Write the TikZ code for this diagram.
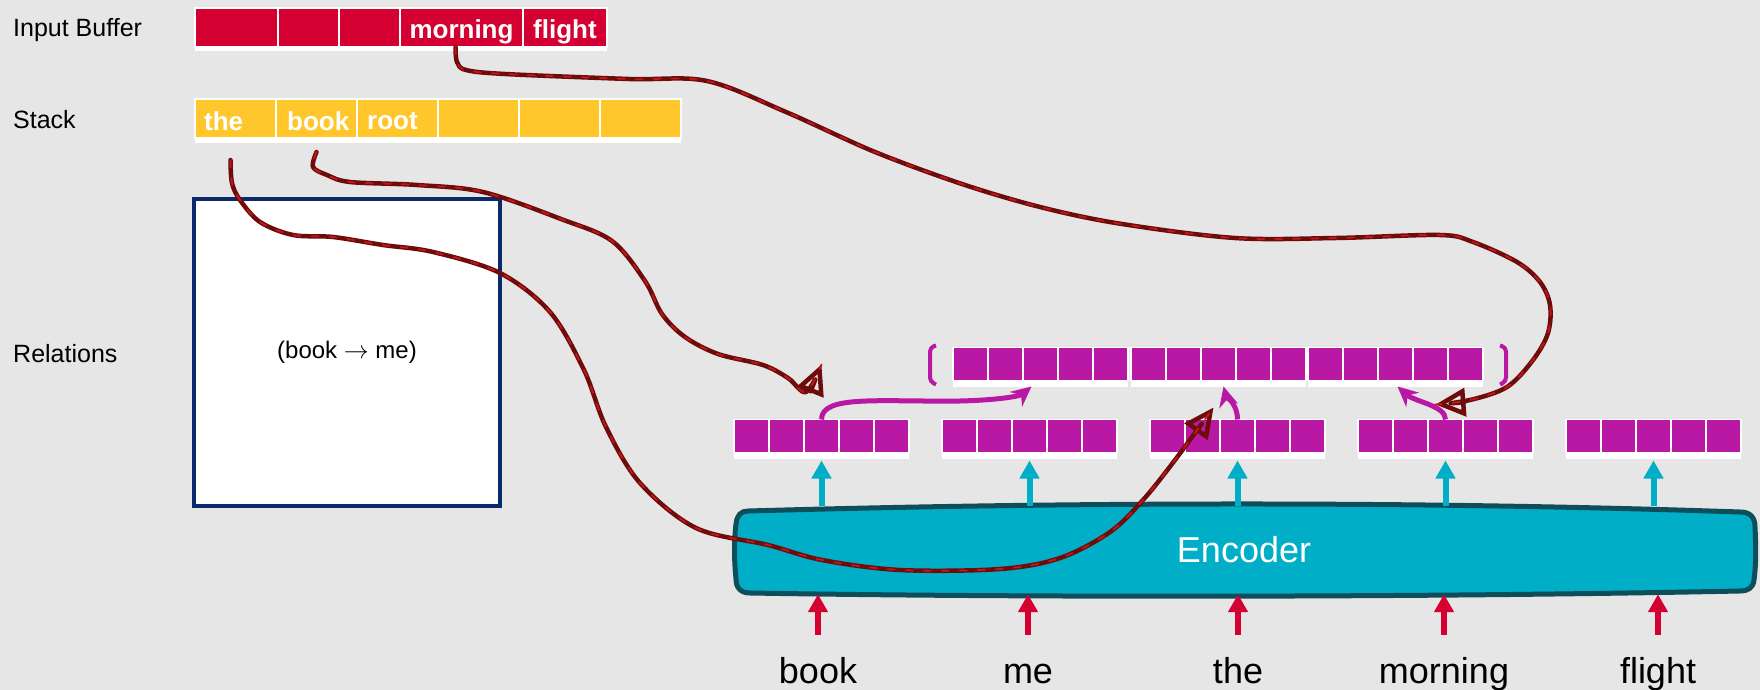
\documentclass[tikz,border=0pt]{standalone}
\usepackage{fontspec}
\setmainfont{Liberation Sans}
\usetikzlibrary{positioning,arrows.meta}

\definecolor{bufred}{HTML}{D50032}
\definecolor{stackyel}{HTML}{FFC72C}
\definecolor{vecmag}{HTML}{B918A5}
\definecolor{enccyan}{HTML}{00AEC7}
\definecolor{encedge}{HTML}{0E4D5A}
\definecolor{relnavy}{HTML}{0B2A6B}
\definecolor{ptrdark}{HTML}{6E0B0B}
\definecolor{ptrred}{HTML}{C01818}
\definecolor{bggray}{HTML}{E6E6E6}

\tikzset{
  rowlabel/.style={anchor=west, inner sep=0pt, font=\fontsize{25}{30}\selectfont},
  cell/.style={draw=white, line width=1.5pt, inner sep=0pt, outer sep=0pt, minimum height=39pt},
  bufcell/.style={cell, fill=bufred, text=white, text height=28pt, text depth=5pt, font=\bfseries\fontsize{26}{30}\selectfont},
  stkcell/.style={cell, fill=stackyel, minimum width=81pt},
  stktext/.style={anchor=west, inner sep=0pt, text=white, font=\bfseries\fontsize{26}{30}\selectfont},
  veccell/.style={cell, fill=vecmag, minimum width=35pt, minimum height=33pt},
  relbox/.style={draw=relnavy, line width=4pt, fill=white, minimum width=306pt, minimum height=307pt, font=\fontsize{24}{28}\selectfont},
  enctext/.style={text=white, font=\fontsize{36}{40}\selectfont, minimum width=1018pt, minimum height=88pt},
  word/.style={anchor=base, inner sep=0pt, text height=26pt, text depth=8pt, font=\fontsize{36}{40}\selectfont},
  inarrow/.style={draw=bufred, line width=6pt, -{Triangle[length=18pt,width=19pt]}},
  outarrow/.style={draw=enccyan, line width=6pt, -{Triangle[length=18pt,width=19pt]}},
  mixarrow/.style={draw=vecmag, line width=5pt, -{Stealth[length=20pt,width=19pt]}},
  pointer/.style={draw=ptrdark, line width=4.5pt, line cap=round, line join=round,
    -{Triangle[open,length=30pt,width=28pt]},
    postaction={draw=ptrred, line width=1.8pt, arrows=-, dash pattern=on 7pt off 11pt}},
}

\begin{document}
\begin{tikzpicture}[x=1pt, y=-1pt]
\fill[bggray] (0,0) rectangle (1760,690);
\useasboundingbox (0,0) rectangle (1760,690);

% row labels
\node[rowlabel] (lbuf) at (13,30) {Input Buffer};
\node[rowlabel] (lstk) at (13,120) {Stack};
\node[rowlabel] (lrel) at (13,354) {Relations};

% input buffer
\node[bufcell, minimum width=83pt] (b1) at (236.5,27.5) {};
\node[bufcell, minimum width=61pt, right=0pt of b1] (b2) {};
\node[bufcell, minimum width=61pt, right=0pt of b2] (b3) {};
\node[bufcell, minimum width=123pt, right=0pt of b3] (b4) {morning};
\node[bufcell, minimum width=84pt, right=0pt of b4] (b5) {flight};
\fill[white] (b1.south west) rectangle ([yshift=-4pt]b5.south east);

% stack
\node[stkcell] (s1) at (235.5,118.5) {};
\foreach \i [count=\j from 2] in {1,...,5}
  \node[stkcell, right=0pt of s\i] (s\j) {};
\fill[white] (s1.south west) rectangle ([yshift=-5pt]s6.south east);
\node[stktext] (t1) at ([xshift=9pt,yshift=-3pt]s1.west) {the};
\node[stktext] (t2) at ([xshift=11pt,yshift=-3pt]s2.west) {book};
\node[stktext] (t3) at ([xshift=10pt,yshift=-3pt]s3.west) {root};

% relations
\node[relbox] (rel) at (347,352) {(book $\rightarrow$ me)};

% encoder
\filldraw[fill=enccyan, draw=encedge, line width=5pt, line join=round]
  (748,511) .. controls (1100,501) and (1450,502) .. (1740,512)
  .. controls (1750,512) and (1755,517) .. (1755,527)
  .. controls (1756,550) and (1756,565) .. (1754,580)
  .. controls (1753,588) and (1748,591) .. (1740,591)
  .. controls (1450,597) and (1050,598) .. (750,593)
  .. controls (741,593) and (736,588) .. (736,579)
  .. controls (734,560) and (734,540) .. (736,524)
  .. controls (737,515) and (741,511) .. (748,511) -- cycle;
\node[enctext] (enc) at (1244,550) {Encoder};

% encoder outputs
\foreach \v/\x in {1/734,2/942,3/1150,4/1358,5/1566} {
  \foreach \c in {1,...,5}
    \node[veccell] (v\v-\c) at ({\x+35*\c-17.5},436) {};
  \fill[white] (v\v-1.south west) rectangle ([yshift=-6pt]v\v-5.south east);
  \draw[outarrow] (v\v-3.south |- enc.north) -- ([yshift=-8pt]v\v-3.south);
}

% concatenated features
\foreach \g/\x in {1/953,2/1131,3/1308} {
  \foreach \c in {1,...,5}
    \node[veccell] (g\g-\c) at ({\x+35*\c-17.5},364) {};
  \fill[white] (g\g-1.south west) rectangle ([yshift=-6pt]g\g-5.south east);
}
\draw[vecmag, line width=4pt, rounded corners=4pt]
  ([xshift=-17pt,yshift=2pt]g1-1.north west) -- ++(-6,2) -- ++(0,34) -- ++(6,3);
\draw[vecmag, line width=4pt, rounded corners=4pt]
  ([xshift=17pt,yshift=2pt]g3-5.north east) -- ++(6,2) -- ++(0,34) -- ++(-6,3);

\draw[mixarrow] (v1-3.north) .. controls ([yshift=25pt]v1-3.north) and (880,402) .. (960,401)
  .. controls (1000,400) and (1020,396) .. ([xshift=-9pt,yshift=-6pt]g1-3.south);
\draw[mixarrow] (v3-3.north) .. controls ([yshift=16pt]v3-3.north) and (1226,396) .. ([xshift=5pt,yshift=-6pt]g2-3.south);
\draw[mixarrow] (v4-3.north) .. controls ([yshift=14pt]v4-3.north) and (1415,402) .. ([xshift=2pt,yshift=-6pt]g3-3.south);

% words and input arrows
\foreach \w/\x/\t in {1/818/book,2/1028/me,3/1238/the,4/1444/morning,5/1658/flight} {
  \node[word] (w\w) at (\x,683) {\t};
  \draw[inarrow] ([yshift=22pt]w\w.north) -- (w\w.north |- enc.south);
}

% pointers from stack and buffer
\draw[pointer] plot[smooth, tension=0.55] coordinates {([yshift=-14pt]s2.south)
  (313,167) (327,175) (350,182) (417,185) (483,192) (561,219) (612,241) (645,281)
  (662,314) (685,337) (718,354) (763,365) (788,378) (806,392) ([yshift=55pt]v1-3.north)};
\draw[pointer] plot[smooth, tension=0.55] coordinates {([xshift=-5pt,yshift=-22pt]s1.south)
  (232,183) (240,200) (260,222) (293,235) (333,237) (383,245) (433,252) (500,273)
  (550,312) (584,370) (606,427) (640,483) (696,528) (768,545) (822,560) (900,570)
  (1000,569) (1060,558) (1110,532) (1143,500) (1175,460) ([xshift=-24pt,yshift=12pt]v3-3.north)};
\draw[pointer] plot[smooth, tension=0.55] coordinates {([xshift=-6pt]b4.south)
  (457,62) (466,70) (505,74) (629,79) (707,81) (786,112) (875,152) (965,185)
  (1044,208) (1122,224) (1235,238) (1336,238) (1440,235) (1473,242) (1517,262)
  (1540,282) (1550,305) (1548,333) (1533,360) (1507,387) (1470,400) ([xshift=-10pt,yshift=15pt]v4-3.north)};
\end{tikzpicture}
\end{document}
